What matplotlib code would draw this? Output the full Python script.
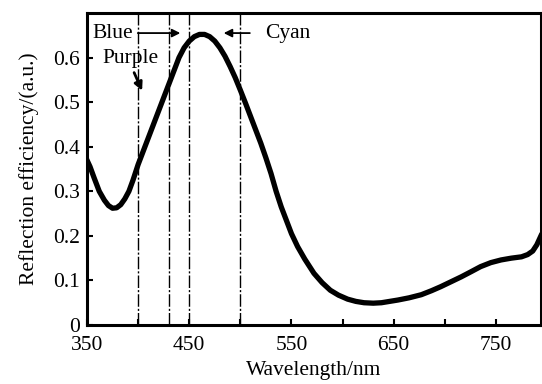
import numpy as np
import matplotlib.pyplot as plt
from matplotlib.ticker import FixedLocator, FuncFormatter

plt.rcParams['font.family'] = ['Liberation Serif', 'DejaVu Serif']

# reflection spectrum
wavelength = [350, 353, 357, 362, 367, 371, 375, 379, 383, 387, 391, 395, 400, 405, 410,
              415, 420, 425, 430, 435, 440, 445, 450, 455, 460, 465, 470, 475, 480, 485,
              490, 495, 500, 505, 510, 515, 520, 525, 530, 535, 540, 545, 550, 556, 563,
              572, 580, 588, 596, 605, 613, 621, 630, 638, 646, 654, 665, 677, 687, 696,
              706, 716, 726, 735, 745, 755, 765, 775, 781, 786, 790, 794]
reflection = [0.37, 0.355, 0.33, 0.30, 0.28, 0.268, 0.262, 0.263, 0.27, 0.283, 0.30,
              0.325, 0.36, 0.39, 0.42, 0.45, 0.48, 0.51, 0.54, 0.57, 0.60, 0.622, 0.637,
              0.647, 0.652, 0.652, 0.647, 0.637, 0.622, 0.603, 0.58, 0.555, 0.527, 0.498,
              0.468, 0.438, 0.408, 0.375, 0.34, 0.30, 0.265, 0.235, 0.205, 0.176, 0.148,
              0.116, 0.095, 0.078, 0.067, 0.058, 0.053, 0.05, 0.049, 0.05, 0.053, 0.056,
              0.061, 0.068, 0.077, 0.086, 0.097, 0.108, 0.12, 0.131, 0.14, 0.146, 0.15,
              0.153, 0.158, 0.166, 0.18, 0.20]

band_edges = [400, 430, 450, 500]
x_labels = [350, 450, 550, 650, 750]
y_labels = [0, 0.1, 0.2, 0.3, 0.4, 0.5, 0.6]

fs = 15.5

fig = plt.figure(figsize=(5.42, 3.84), dpi=100)
ax = fig.add_axes([0.1605, 0.1536, 0.8375, 0.8125])

for x in band_edges:
    ax.axvline(x, color='black', lw=1.0, linestyle=(0, (9, 1.5, 1.5, 1.5)))

ax.plot(wavelength, reflection, color='black', lw=3.8, solid_joinstyle='round')

arrow = dict(arrowstyle='-|>', color='black', lw=1.3, mutation_scale=12)
ax.text(355, 0.655, 'Blue', fontsize=fs, va='center', ha='left')
ax.annotate('', xy=(444, 0.655), xytext=(397, 0.655), arrowprops=arrow)
ax.text(365, 0.598, 'Purple', fontsize=fs, va='center', ha='left')
ax.annotate('', xy=(405, 0.52), xytext=(395, 0.572),
            arrowprops=dict(arrowstyle='-|>', color='black', lw=2.0, mutation_scale=12))
ax.text(524, 0.655, 'Cyan', fontsize=fs, va='center', ha='left')
ax.annotate('', xy=(481, 0.655), xytext=(512, 0.655), arrowprops=arrow)

ax.set_xlim(350, 794)
ax.set_ylim(0, 0.70)
ax.xaxis.set_major_locator(FixedLocator(x_labels))
ax.xaxis.set_minor_locator(FixedLocator([400, 500, 600, 700]))
ax.set_yticks(y_labels)
ax.yaxis.set_major_formatter(FuncFormatter(lambda v, p: '0' if abs(v) < 1e-9 else f'{v:.1f}'))

ax.tick_params(which='both', direction='in', width=1.5, length=4, labelsize=fs)
ax.tick_params(axis='x', pad=8)
ax.tick_params(axis='y', pad=5)
for s in ax.spines.values():
    s.set_linewidth(2.2)

ax.set_xlabel('Wavelength/nm', fontsize=fs, labelpad=4)
ax.set_ylabel('Reflection efficiency/(a.u.)', fontsize=fs, labelpad=10)

fig.savefig('out.png', dpi=100)
